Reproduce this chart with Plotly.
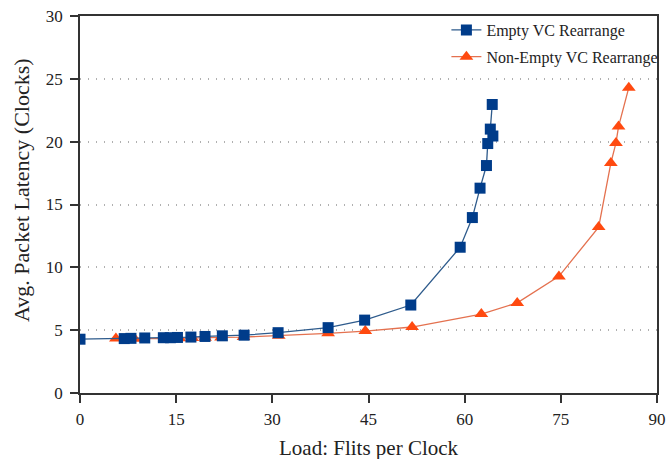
import plotly.graph_objects as go

empty_x = [0, 6.9, 7.95, 10.1, 13.0, 14.1, 15.2, 17.3, 19.5, 22.2, 25.6, 30.9, 38.7,
           44.4, 51.6, 59.3, 61.2, 62.4, 63.4, 63.6, 64.4, 64.0, 64.3]
empty_y = [4.28, 4.33, 4.35, 4.38, 4.4, 4.4, 4.42, 4.45, 4.5, 4.55, 4.6, 4.8, 5.2,
           5.8, 7.0, 11.6, 13.96, 16.3, 18.1, 19.85, 20.45, 21.0, 22.96]

nonempty_x = [5.6, 7.5, 8.5, 13.2, 14.5, 15.5, 17.5, 19.5, 22.0, 25.5, 31.0, 38.7,
              44.5, 51.8, 62.6, 68.2, 74.7, 80.9, 82.8, 83.6, 84.0, 85.6]
nonempty_y = [4.33, 4.3, 4.32, 4.33, 4.35, 4.36, 4.38, 4.4, 4.42, 4.45, 4.55, 4.75,
              4.93, 5.25, 6.28, 7.17, 9.28, 13.2, 18.3, 19.9, 21.2, 24.3]

x_ticks = [0, 15, 30, 45, 60, 75, 90]
y_ticks = [0, 5, 10, 15, 20, 25, 30]

x_title = "Load: Flits per Clock"
y_title = "Avg. Packet Latency (Clocks)"

FONT = "'Liberation Serif', 'Times New Roman', serif"

fig = go.Figure()
fig.add_trace(go.Scatter(
    x=nonempty_x, y=nonempty_y, mode="lines+markers", name="Non-Empty VC Rearrange",
    legendgroup="b", legendrank=2,
    line=dict(color="#e4714f", width=1.3),
    marker=dict(symbol="triangle-up", size=12, color="#ff4a10"),
))
fig.add_trace(go.Scatter(
    x=empty_x, y=empty_y, mode="lines+markers", name="Empty VC Rearrange",
    legendgroup="a", legendrank=1,
    line=dict(color="#2e5b8c", width=1.3),
    marker=dict(symbol="square", size=11, color="#003c8a"),
))

fig.update_layout(
    width=670, height=459,
    margin=dict(l=80, r=4, t=16, b=66),
    paper_bgcolor="white", plot_bgcolor="white",
    font=dict(family=FONT, color="#222", size=16),
    legend=dict(x=0.635, y=1.008, xanchor="left", yanchor="top",
                bgcolor="rgba(0,0,0,0)", traceorder="grouped",
                font=dict(family=FONT, size=16, color="#222"),
                tracegroupgap=3),
    showlegend=True,
    annotations=[
        dict(text=x_title, xref="paper", yref="paper", x=0.5, y=-0.1459,
             xanchor="center", yanchor="middle", showarrow=False,
             font=dict(family=FONT, size=21, color="#222")),
        dict(text=y_title, xref="paper", yref="paper", x=-0.1007, y=0.5385,
             xanchor="center", yanchor="middle", showarrow=False, textangle=-90,
             font=dict(family=FONT, size=22, color="#222")),
    ],
)
fig.update_xaxes(
    range=[0, 90], tickvals=x_ticks, ticktext=[str(v) for v in x_ticks],
    showline=True, linecolor="#333", linewidth=1.5, mirror=True,
    ticks="outside", ticklen=8, tickcolor="#333", tickwidth=1.5,
    showgrid=False, zeroline=False, ticklabeloverflow="allow",
    ticklabelstandoff=2,
    tickfont=dict(family=FONT, size=17),
)
fig.update_yaxes(
    range=[0, 30], tickvals=y_ticks, ticktext=[str(v) for v in y_ticks],
    showline=True, linecolor="#333", linewidth=1.5, mirror=True,
    ticks="outside", ticklen=8, tickcolor="#333", tickwidth=1.5,
    showgrid=True, gridcolor="#b0b0b0", griddash="1px,7px", gridwidth=1.5,
    zeroline=False, ticklabelstandoff=4,
    tickfont=dict(family=FONT, size=17),
)

fig.write_html("out.html")
